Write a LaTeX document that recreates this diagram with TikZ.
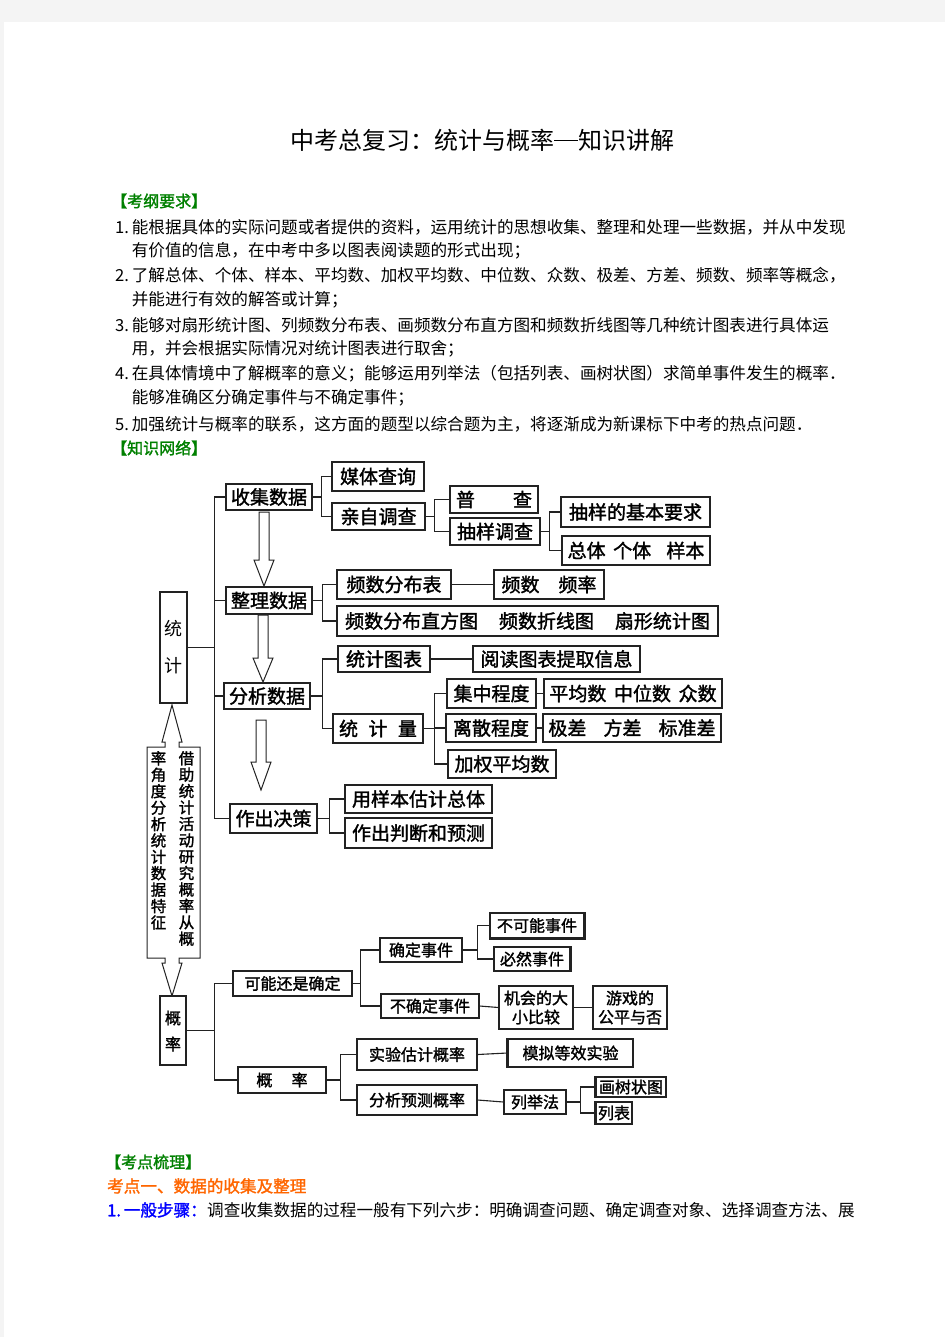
\documentclass[tikz,border=0pt]{standalone}
\usepackage{fontspec}
\newfontfamily\cjk{Noto Sans CJK SC}
\newfontfamily\cjkb[FakeBold=1.6]{Noto Sans CJK SC}
\usetikzlibrary{calc}
\definecolor{pagegray}{HTML}{F4F4F4}
\definecolor{hgreen}{HTML}{008000}
\definecolor{horange}{HTML}{FF6600}
\definecolor{hblue}{HTML}{0000FF}
\definecolor{lc}{HTML}{222222}
\tikzset{
  box/.style={draw=lc, line width=1.2pt, inner sep=0pt, align=center, fill=white},
  stf/.style={font=\cjkb\fontsize{19}{22}\selectfont},
  pf/.style={font=\cjkb\fontsize{16}{19}\selectfont},
  conn/.style={draw=lc, line width=1.1pt},
  txt/.style={anchor=west, inner sep=0pt, font=\cjk\fontsize{16.6}{20}\selectfont},
  head/.style={anchor=west, inner sep=0pt, text=hgreen, font=\cjkb\fontsize{16}{20}\selectfont},
  hollow/.style={draw=lc, line width=1pt, fill=white},
}
% name, x1, y1, x2, y2, style, text
\newcommand\bx[7]{\node[box,#6,minimum width={#4pt-#2pt},minimum height={#5pt-#3pt}] (#1) at ({(#2+#4)/2},{(#3+#5)/2}) {#7};}
\newcommand\harrow[4]{\draw[hollow] ({#1-5},#2) -- ({#1+5},#2) -- ({#1+5},#3) -- ({#1+10},#3) -- (#1,#4) -- ({#1-10},#3) -- ({#1-5},#3) -- cycle;}
\begin{document}
\begin{tikzpicture}[x=1pt,y=-1pt]
\useasboundingbox (0,0) rectangle (945,1337);
\fill[pagegray] (0,0) rectangle (945,1337);
\fill[white] (4,22) rectangle (945,1337);

% title
\node[font=\cjk\fontsize{24}{28}\selectfont, inner sep=0pt] (title) at (482,140) {中考总复习：统计与概率\rule[0.33em]{1em}{0.06em}知识讲解};

\node[head] (h1) at (111,201) {【考纲要求】};
\node[txt] (l1) at (115,227) {\makebox[16.6pt][l]{1.}能根据具体的实际问题或者提供的资料，运用统计的思想收集、整理和处理一些数据，并从中发现};
\node[txt] (l2) at (131.6,251) {有价值的信息，在中考中多以图表阅读题的形式出现；};
\node[txt] (l3) at (115,275) {\makebox[16.6pt][l]{2.}了解总体、个体、样本、平均数、加权平均数、中位数、众数、极差、方差、频数、频率等概念，};
\node[txt] (l4) at (131.6,300) {并能进行有效的解答或计算；};
\node[txt] (l5) at (115,325) {\makebox[16.6pt][l]{3.}能够对扇形统计图、列频数分布表、画频数分布直方图和频数折线图等几种统计图表进行具体运};
\node[txt] (l6) at (131.6,349) {用，并会根据实际情况对统计图表进行取舍；};
\node[txt] (l7) at (115,374) {\makebox[16.6pt][l]{4.}在具体情境中了解概率的意义；能够运用列举法（包括列表、画树状图）求简单事件发生的概率．};
\node[txt] (l8) at (131.6,398) {能够准确区分确定事件与不确定事件；};
\node[txt] (l9) at (115,424) {\makebox[16.6pt][l]{5.}加强统计与概率的联系，这方面的题型以综合题为主，将逐渐成为新课标下中考的热点问题．};
\node[head] (h2) at (111,448) {【知识网络】};

% ---------- statistics ----------
\bx{tj}{160}{592}{187}{703}{}{}
\node[font=\cjk\fontsize{18}{20}\selectfont, inner sep=0pt] (tj1) at (173.5,629) {统};
\node[font=\cjk\fontsize{18}{20}\selectfont, inner sep=0pt] (tj2) at (173.5,666) {计};

\bx{collect}{226}{484}{312}{510}{stf}{收集数据}
\bx{media}{332}{462}{424}{491}{stf}{媒体查询}
\bx{self}{332}{503}{425}{530}{stf}{亲自调查}
\bx{census}{450}{486}{538}{513}{stf}{普\hspace{2em}查}
\bx{sample}{450}{518}{540}{545}{stf}{抽样调查}
\bx{req}{561}{497}{710}{527}{stf}{抽样的基本要求}
\bx{pop}{562}{536}{710}{565}{stf}{总体\hspace{0.4em}个体\hspace{0.8em}样本}

\bx{organize}{226}{587}{312}{614}{stf}{整理数据}
\bx{freqtab}{337}{570}{451}{599}{stf}{频数分布表}
\bx{freq}{494}{570}{604}{599}{stf}{频数\hspace{1em}频率}
\bx{charts}{337}{606}{718}{636}{stf}{频数分布直方图\hspace{1.1em}频数折线图\hspace{1.1em}扇形统计图}

\bx{analyze}{224}{683}{310}{709}{stf}{分析数据}
\bx{stchart}{338}{646}{430}{672}{stf}{统计图表}
\bx{read}{473}{646}{640}{672}{stf}{阅读图表提取信息}
\bx{stq}{333}{714}{423}{743}{stf}{统\hspace{0.55em}计\hspace{0.55em}量}
\bx{central}{447}{679}{536}{708}{stf}{集中程度}
\bx{centralb}{544}{679}{722}{708}{stf}{平均数\hspace{0.4em}中位数\hspace{0.4em}众数}
\bx{disp}{446}{714}{536}{742}{stf}{离散程度}
\bx{dispb}{543}{714}{721}{742}{stf}{极差\hspace{0.9em}方差\hspace{0.9em}标准差}
\bx{weighted}{448}{750}{556}{778}{stf}{加权平均数}

\bx{decide}{230}{804}{317}{833}{stf}{作出决策}
\bx{est}{345}{785}{492}{813}{stf}{用样本估计总体}
\bx{judge}{345}{818}{492}{848}{stf}{作出判断和预测}

% trunk
\foreach \n in {collect,organize,analyze,decide}
  \draw[conn] (tj.east) -- ++(27,0) |- (\n.west);
\foreach \n in {media,self}
  \draw[conn] (collect.east) -- ++(9,0) |- (\n.west);
\foreach \n in {census,sample}
  \draw[conn] (self.east) -- ++(9,0) |- (\n.west);
\foreach \n in {req,pop}
  \draw[conn] (sample.east) -- ++(9,0) |- (\n.west);
\foreach \n in {freqtab,charts}
  \draw[conn] (organize.east) -- ++(10,0) |- (\n.west);
\draw[conn] (freqtab.east) -- (freq.west);
\foreach \n in {stchart,stq}
  \draw[conn] (analyze.east) -- ++(12,0) |- (\n.west);
\draw[conn] (stchart.east) -- (read.west);
\foreach \n in {central,disp,weighted}
  \draw[conn] (stq.east) -- ++(11,0) |- (\n.west);
\draw[conn] (central.east) -- (centralb.west);
\draw[conn] (disp.east) -- (dispb.west);
\foreach \n in {est,judge}
  \draw[conn] (decide.east) -- ++(12,0) |- (\n.west);

% hollow down arrows
\harrow{264}{512}{560}{586}
\harrow{263}{615}{658}{682}
\harrow{261}{720}{762}{790}

% double arrow callout between 统计 and 概率
\draw[hollow] (172,705) -- (162,742) -- (165,742) -- (165,747) -- (147,747) -- (147,958)
  -- (165,958) -- (165,963) -- (162,963) -- (172,996) -- (182,963) -- (179,963) -- (179,958)
  -- (200,958) -- (200,747) -- (179,747) -- (179,742) -- (182,742) -- cycle;
\node[inner sep=0pt, align=center, font=\cjkb\fontsize{15.5}{16.4}\selectfont] (colr) at (186.5,759) [anchor=north, yshift=8pt] {借\\助\\统\\计\\活\\动\\研\\究\\概\\率\\从\\概};
\node[inner sep=0pt, align=center, font=\cjkb\fontsize{15.5}{16.4}\selectfont] (coll) at (158.5,759) [anchor=north, yshift=8pt] {率\\角\\度\\分\\析\\统\\计\\数\\据\\特\\征};

% ---------- probability ----------
\bx{gl}{160}{996}{186}{1065}{}{}
\node[pf, inner sep=0pt] (gl1) at (173,1018) {概};
\node[pf, inner sep=0pt] (gl2) at (173,1044) {率};

\bx{poss}{233}{971}{352}{996}{pf}{可能还是确定}
\bx{cert}{380}{938}{462}{962}{pf}{确定事件}
\bx{imp}{490}{913}{584}{938}{pf}{不可能事件}
\bx{sure}{494}{947}{570}{971}{pf}{必然事件}
\bx{uncert}{381}{994}{479}{1018}{pf}{不确定事件}
\bx{chance}{499}{986}{573}{1029}{pf}{机会的大\\小比较}
\bx{game}{593}{986}{667}{1029}{pf}{游戏的\\公平与否}
\bx{prob}{238}{1067}{326}{1093}{pf}{概\hspace{1.2em}率}
\bx{exp}{357}{1039}{477}{1070}{pf}{实验估计概率}
\bx{sim}{508}{1039}{633}{1067}{pf}{模拟等效实验}
\bx{ana}{357}{1085}{477}{1115}{pf}{分析预测概率}
\bx{enum}{504}{1090}{566}{1114}{pf}{列举法}
\bx{tree}{596}{1077}{666}{1097}{pf}{画树状图}
\bx{list}{596}{1102}{632}{1124}{pf}{列表}

\foreach \n in {poss,prob}
  \draw[conn] (gl.east) -- ++(28,0) |- (\n.west);
\foreach \n in {cert,uncert}
  \draw[conn] (poss.east) -- ++(8,0) |- (\n.west);
\foreach \n in {imp,sure}
  \draw[conn] (cert.east) -- ++(15,0) |- (\n.west);
\draw[conn] (uncert.east) -- (chance.west);
\draw[conn] (chance.east) -- (game.west);
\foreach \n in {exp,ana}
  \draw[conn] (prob.east) -- ++(14,0) |- (\n.west);
\draw[conn] (exp.east) -- (sim.west);
\draw[conn] (ana.east) -- (enum.west);
\foreach \n in {tree,list}
  \draw[conn] (enum.east) -- ++(14,0) |- (\n.west);

% heavier edges seen in the scan
\draw[lc, line width=2.6pt] (imp.north east) -- (imp.south east) -- (imp.south west);
\draw[lc, line width=2.2pt] (sure.north east) -- (sure.south east);
\draw[lc, line width=2.6pt] (sim.north west) -- (sim.south west);
\draw[lc, line width=2.4pt] (tree.north west) -- (tree.south west);
\draw[lc, line width=2.4pt] (list.north west) -- (list.south west);

% ---------- bottom text ----------
\node[head] (h3) at (105,1162) {【考点梳理】};
\node[anchor=west, inner sep=0pt, text=horange, font=\cjkb\fontsize{16.6}{20}\selectfont] (k1) at (107,1186) {考点一、数据的收集及整理};
\node[anchor=west, inner sep=0pt, text=hblue, font=\cjkb\fontsize{16.6}{20}\selectfont] (s1) at (107,1210) {1.\,一般步骤：};
\node[txt] (s2) at (s1.east) {调查收集数据的过程一般有下列六步：明确调查问题、确定调查对象、选择调查方法、展};
\end{tikzpicture}
\end{document}
